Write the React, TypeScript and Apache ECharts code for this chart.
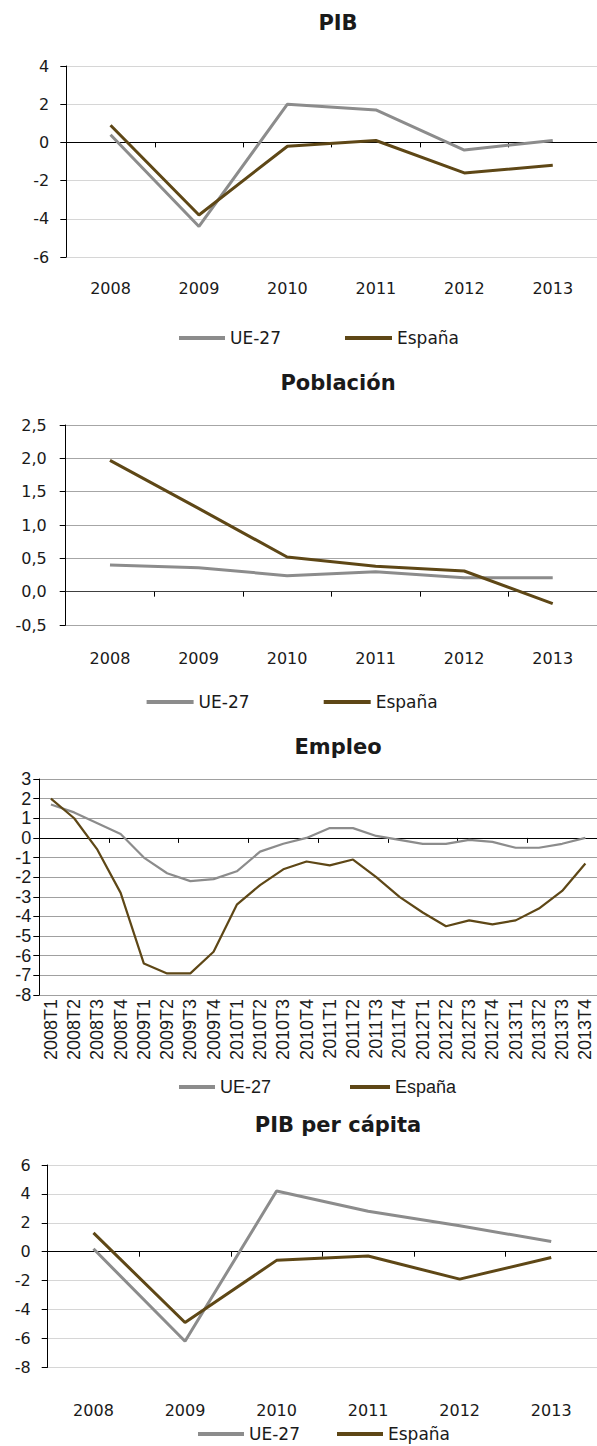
import React, { useEffect, useRef } from "react";
import * as echarts from "echarts";

const years = ["2008", "2009", "2010", "2011", "2012", "2013"];
const quarters = [
  "2008T1", "2008T2", "2008T3", "2008T4",
  "2009T1", "2009T2", "2009T3", "2009T4",
  "2010T1", "2010T2", "2010T3", "2010T4",
  "2011T1", "2011T2", "2011T3", "2011T4",
  "2012T1", "2012T2", "2012T3", "2012T4",
  "2013T1", "2013T2", "2013T3", "2013T4",
];

const pibUE = [0.4, -4.4, 2.0, 1.7, -0.4, 0.1];
const pibES = [0.9, -3.8, -0.2, 0.1, -1.6, -1.2];

const pobUE = [0.4, 0.36, 0.24, 0.3, 0.21, 0.21];
const pobES = [1.97, 1.25, 0.52, 0.38, 0.31, -0.18];

const empUE = [1.7, 1.3, 0.75, 0.2, -1.0, -1.8, -2.2, -2.1, -1.7, -0.7, -0.3, 0.0,
  0.5, 0.5, 0.1, -0.1, -0.3, -0.3, -0.1, -0.2, -0.5, -0.5, -0.3, 0.0];
const empES = [2.0, 1.0, -0.6, -2.8, -6.4, -6.9, -6.9, -5.8, -3.4, -2.4, -1.6, -1.2,
  -1.4, -1.1, -2.0, -3.0, -3.8, -4.5, -4.2, -4.4, -4.2, -3.6, -2.7, -1.3];

const pcUE = [0.2, -6.2, 4.2, 2.8, 1.8, 0.7];
const pcES = [1.3, -4.9, -0.6, -0.3, -1.9, -0.4];

const titles = ["PIB", "Población", "Empleo", "PIB per cápita"];
const seriesNames = ["UE-27", "España"];

const GRAY = "#8c8c8c";
const BROWN = "#5e4716";
const TXT = "#1a1a1a";
const DV = "DejaVu Sans";
const LIB = "Liberation Sans";

export default function App() {
  const ref = useRef<HTMLDivElement>(null);
  useEffect(() => {
    if (!ref.current) return;
    const chart = echarts.init(ref.current, undefined, { renderer: "svg" });

    const grids = [
      { left: 66.3, width: 533, top: 66, height: 191 },
      { left: 65.7, width: 533, top: 425, height: 200 },
      { left: 39.3, width: 564, top: 779, height: 216 },
      { left: 47.7, width: 552, top: 1165, height: 202.3 },
    ];
    const cats = [years, years, quarters, years];
    const yCfg = [
      { min: -6, max: 4, interval: 2, fmt: (v: number) => String(v), font: DV, size: 16, margin: 17, grid: "#d6d6d6" },
      { min: -0.5, max: 2.5, interval: 0.5, fmt: (v: number) => v.toFixed(1).replace(".", ","), font: DV, size: 16, margin: 19, grid: "#a6a6a6" },
      { min: -8, max: 3, interval: 1, fmt: (v: number) => String(v), font: LIB, size: 18, margin: 8, grid: "#a0a0a0" },
      { min: -8, max: 6, interval: 2, fmt: (v: number) => String(v), font: DV, size: 16, margin: 17, grid: "#d6d6d6" },
    ];
    const xMargins = [23, 25, 4, 35];
    const data = [
      [pibUE, pibES],
      [pobUE, pobES],
      [empUE, empES],
      [pcUE, pcES],
    ];

    const xAxis: any[] = [];
    const yAxis: any[] = [];
    const series: any[] = [];
    for (let g = 0; g < 4; g++) {
      const isEmp = g === 2;
      xAxis.push({
        type: "category",
        gridIndex: g,
        data: cats[g],
        position: "bottom",
        boundaryGap: true,
        axisLine: { show: false, onZero: false },
        axisTick: { show: false },
        splitLine: { show: false },
        axisLabel: {
          interval: 0,
          margin: xMargins[g],
          color: TXT,
          fontFamily: isEmp ? LIB : DV,
          fontSize: isEmp ? 18 : 16,
          rotate: isEmp ? 90 : 0,
        },
      });
      xAxis.push({
        type: "category",
        gridIndex: g,
        data: cats[g],
        position: "bottom",
        boundaryGap: true,
        axisLine: { show: true, onZero: true, lineStyle: { color: g === 1 ? "#404040" : "#000", width: 1 } },
        axisTick: { show: true, length: 5, lineStyle: { color: "#000" } },
        axisLabel: { show: false },
        splitLine: { show: false },
      });
      const yc = yCfg[g];
      yAxis.push({
        type: "value",
        gridIndex: g,
        min: yc.min,
        max: yc.max,
        interval: yc.interval,
        axisLine: { show: true, onZero: false, lineStyle: { color: "#000", width: 1 } },
        axisTick: { show: true, length: 6, lineStyle: { color: "#000" } },
        splitLine: { show: true, lineStyle: { color: yc.grid, width: 1 } },
        axisLabel: {
          margin: yc.margin,
          color: TXT,
          fontFamily: yc.font,
          fontSize: yc.size,
          formatter: yc.fmt,
        },
      });
      [GRAY, BROWN].forEach((c, i) => {
        series.push({
          type: "line",
          name: seriesNames[i],
          xAxisIndex: g * 2,
          yAxisIndex: g,
          data: data[g][i],
          symbol: "none",
          showSymbol: false,
          lineStyle: { color: c, width: isEmp ? 2.2 : 3 },
          itemStyle: { color: c },
          z: i === 0 ? 3 : 4,
        });
      });
    }

    const legendSpecs = [
      { y: 338, items: [[179, 46], [345, 47]], font: DV, size: 17 },
      { y: 702, items: [[146.6, 47], [323.7, 47]], font: DV, size: 17 },
      { y: 1087, items: [[179, 36], [350, 40]], font: LIB, size: 18 },
      { y: 1434, items: [[198, 46], [337, 46]], font: DV, size: 17 },
    ];
    const legend: any[] = [];
    legendSpecs.forEach((ls) => {
      ls.items.forEach(([left, w], i) => {
        legend.push({
          data: [seriesNames[i]],
          left,
          top: ls.y - ls.size / 2,
          padding: 0,
          icon: "rect",
          itemWidth: w,
          itemHeight: 4,
          selectedMode: false,
          textStyle: { color: TXT, fontFamily: ls.font, fontSize: ls.size },
        });
      });
    });

    const titleY = [23, 383, 747, 1125];
    const graphic = titles.map((t, i) => ({
      type: "text",
      x: 338,
      y: titleY[i],
      style: {
        text: t,
        fill: TXT,
        font: `bold 21px "${DV}"`,
        textAlign: "center",
        textVerticalAlign: "middle",
        align: "center",
        verticalAlign: "middle",
      },
    }));

    chart.setOption({
      animation: false,
      backgroundColor: "#fff",
      grid: grids,
      xAxis,
      yAxis,
      series,
      legend,
      graphic,
    });
    return () => chart.dispose();
  }, []);
  return (
    <div
      ref={ref}
      style={{ position: "absolute", left: 0, top: 0, width: 597, height: 1446, overflow: "hidden" }}
    />
  );
}
